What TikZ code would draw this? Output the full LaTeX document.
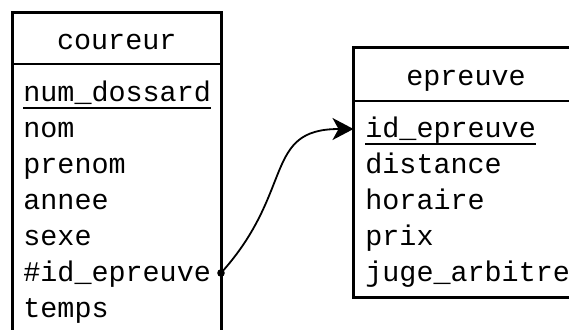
\documentclass[tikz,border=0pt]{standalone}
\usepackage{fontspec}
\setmonofont{Liberation Mono}
\usetikzlibrary{arrows.meta}

\begin{document}
\begin{tikzpicture}[x=0.5pt,y=-0.5pt,
champ/.style={anchor=base west,inner sep=0pt,font=\ttfamily\fontsize{14.2}{17}\selectfont},
titre/.style={anchor=base,inner sep=0pt,font=\ttfamily\fontsize{14.2}{17}\selectfont},
cadre/.style={line width=1.5pt},
]

\clip (0,0) rectangle (569,329);

%\draw[help lines,yellow,thin] (0,0) grid[step=50] (569,329);

% table coureur
\draw [cadre] (12.5,340) -- (12.5,12.5) -- (221,12.5) -- (221,340);
\draw [line width=1pt] (12.5,64) -- (221,64);

\node  [titre] (T1) at (116.75,49.5){coureur};
\node  [champ] (c1) at (23,101){num\textunderscore dossard};
\node  [champ] (c2) at (23,137){nom};
\node  [champ] (c3) at (23,173){prenom};
\node  [champ] (c4) at (23,209){annee};
\node  [champ] (c5) at (23,245){sexe};
\node  [champ] (c6) at (23,281){\#id\textunderscore epreuve};
\node  [champ] (c7) at (23,317){temps};

\draw [line width=1pt] ([yshift=-3.6pt]c1.base west) -- ([yshift=-3.6pt]c1.base east);

% table epreuve
\draw [cadre] (580,47) -- (353.5,47) -- (353.5,297.5) -- (580,297.5);
\draw [line width=1pt] (353.5,101) -- (580,101);

\node  [titre] (T2) at (466,85){epreuve};
\node  [champ] (e1) at (365,137){id\textunderscore epreuve};
\node  [champ] (e2) at (365,173){distance};
\node  [champ] (e3) at (365,209){horaire};
\node  [champ] (e4) at (365,245){prix};
\node  [champ] (e5) at (365,281){juge\textunderscore arbitre};

\draw [line width=1pt] ([yshift=-3.6pt]e1.base west) -- ([yshift=-3.6pt]e1.base east);

% cle etrangere
\coordinate (fk) at (221,273);
\coordinate (pk) at (353.5,129);
\draw [line width=0.9pt,-{Stealth[length=10.5pt,width=11pt,inset=3pt]}] (fk) .. controls (295,191) and (263,129) .. (pk);
\fill (fk) circle (1.9pt);
\end{tikzpicture}
\end{document}
